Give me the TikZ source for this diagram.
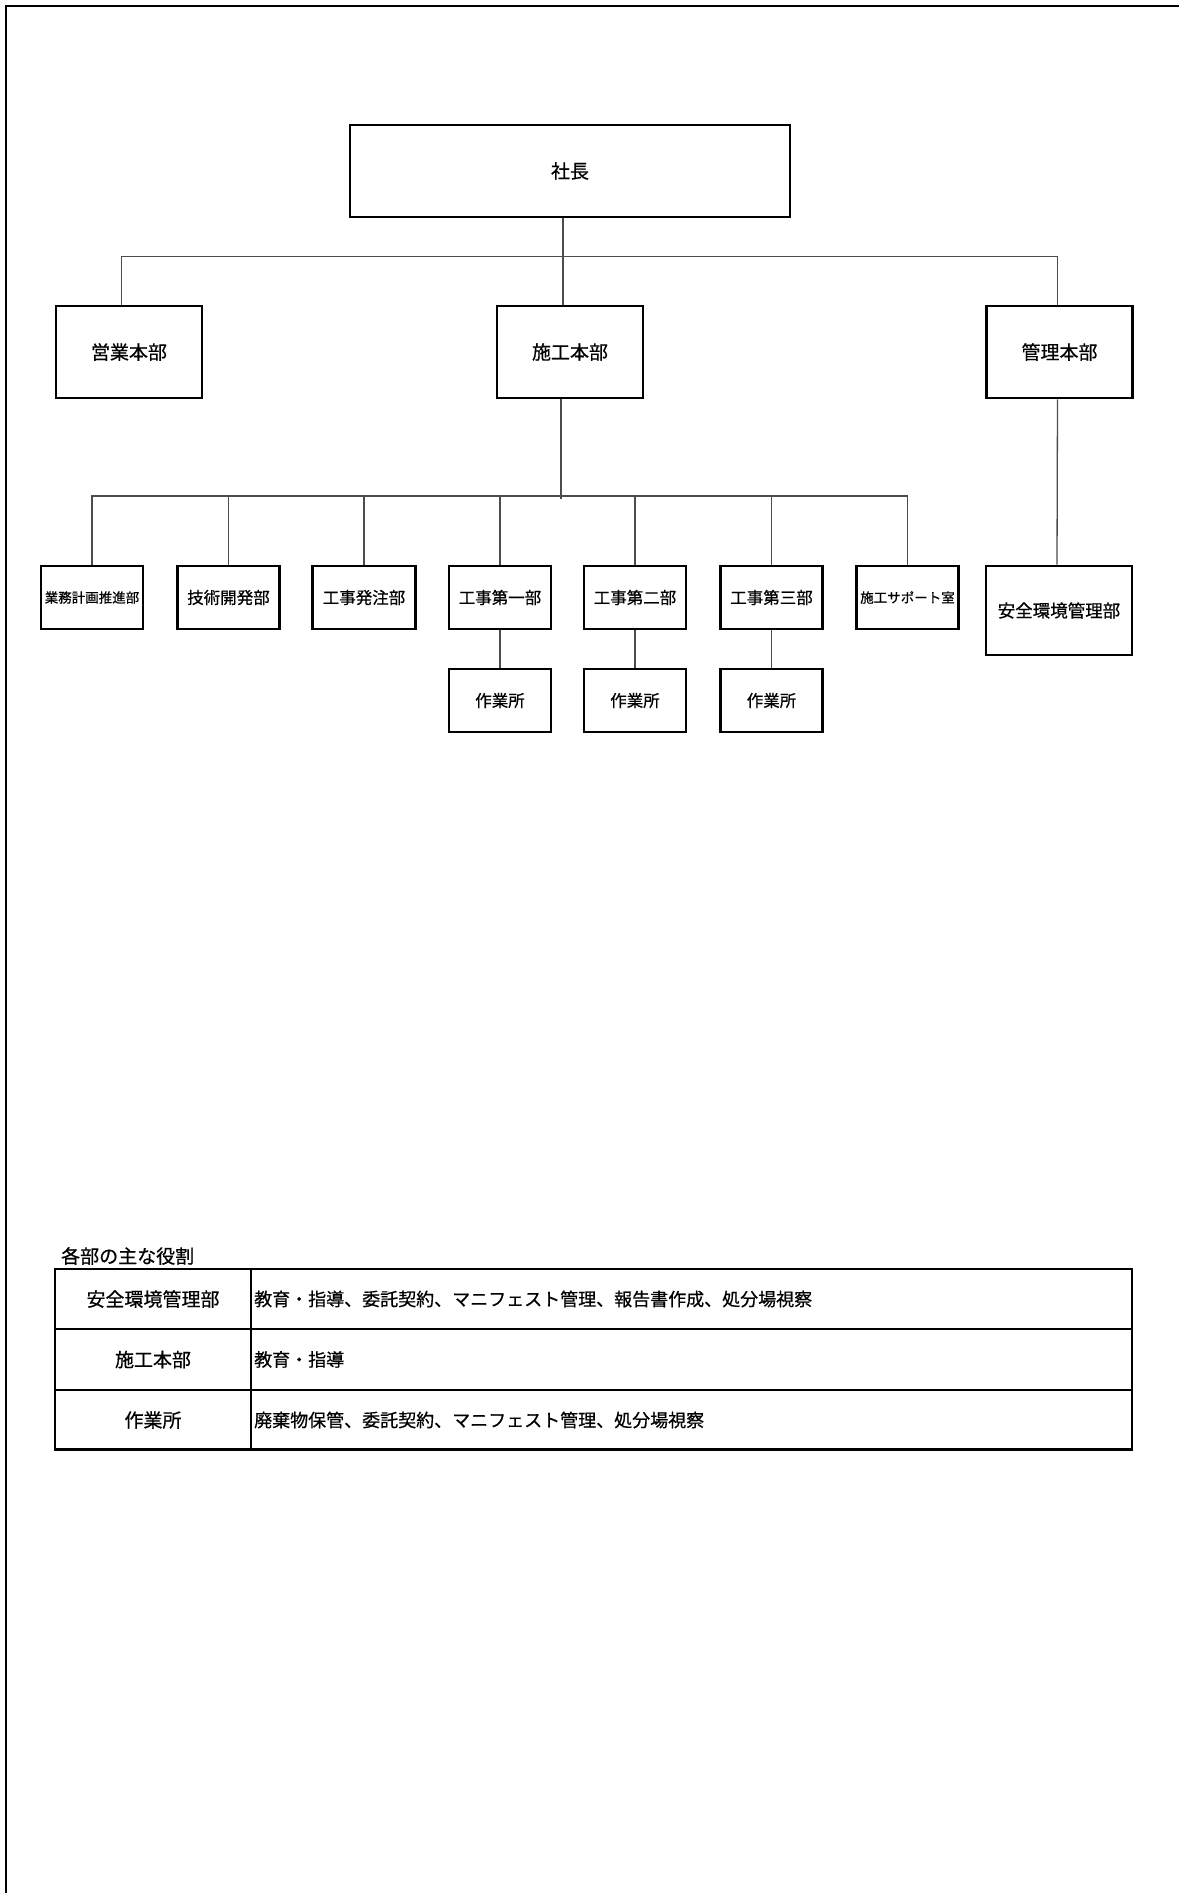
\documentclass[tikz,border=0pt]{standalone}
\usepackage{fontspec}
\newfontfamily\jp[FakeBold=0.6]{Noto Sans CJK JP}
\begin{document}
\begin{tikzpicture}[x=1pt,y=-1pt,
  box/.style={draw=black, line width=2.7pt, inner sep=0pt, align=center, font=\jp\fontsize{16.5}{20}\selectfont},
  bigbox/.style={box, font=\jp\fontsize{19}{22}\selectfont},
  smallbox/.style={box, font=\jp\fontsize{13.5}{16}\selectfont},
  conn/.style={draw=black!70, line width=1.3pt},
  frameline/.style={draw=black, line width=2.6pt},
  tline/.style={draw=black, line width=2.7pt},
  lbl/.style={inner sep=0pt, font=\jp\fontsize{19}{22}\selectfont},
  rtxt/.style={inner sep=0pt, anchor=west, font=\jp\fontsize{18}{22}\selectfont}]
\useasboundingbox (0,0) rectangle (1179,1893);
\fill[white] (0,0) rectangle (1179,1893);
% page frame (top and left only)
\draw[frameline] (6,1893) -- (6,6) -- (1179,6);

% level 0 / 1
\node[bigbox, minimum width=440pt, minimum height=92pt] (shacho) at (570,171) {社長};
\node[bigbox, minimum width=146pt, minimum height=92pt] (eigyo) at (129,352) {営業本部};
\node[bigbox, minimum width=146pt, minimum height=92pt] (sekou) at (570,352) {施工本部};
\node[bigbox, minimum width=146pt, minimum height=92pt] (kanri) at (1059.5,352) {管理本部};

% level 2
\node[smallbox, minimum width=102pt, minimum height=63pt] (gyomu) at (92,597.5) {業務計画推進部};
\node[box, minimum width=102pt, minimum height=63pt] (gijutsu) at (228.5,597.5) {技術開発部};
\node[box, minimum width=103pt, minimum height=63pt] (hatchu) at (364,597.5) {工事発注部};
\node[box, minimum width=102pt, minimum height=63pt] (dai1) at (500,597.5) {工事第一部};
\node[box, minimum width=102pt, minimum height=63pt] (dai2) at (635,597.5) {工事第二部};
\node[box, minimum width=102pt, minimum height=63pt] (dai3) at (771.5,597.5) {工事第三部};
\node[smallbox, minimum width=102pt, minimum height=63pt] (sapo) at (907.5,597.5) {施工サポート室};
\node[box, font=\jp\fontsize{17.5}{21}\selectfont, minimum width=146pt, minimum height=89pt] (anzen) at (1059,610.5) {安全環境管理部};

% level 3
\node[box, minimum width=102pt, minimum height=63pt] (sa1) at (500,700.5) {作業所};
\node[box, minimum width=102pt, minimum height=63pt] (sa2) at (635,700.5) {作業所};
\node[box, minimum width=102pt, minimum height=63pt] (sa3) at (771.5,700.5) {作業所};

% connectors level 0-1
\draw[conn] ([xshift=-7pt]shacho.south) -- ([xshift=-7pt]sekou.north);
\draw[conn] ([xshift=-7.5pt]eigyo.north) -- ++(0,-48) -| ([xshift=-2pt]kanri.north);

% connectors level 1-2
\coordinate (bus2) at (0,496);
\draw[conn] ([xshift=-9pt]sekou.south) -- ([xshift=-9pt,yshift=-3pt]sekou.south |- bus2);
\draw[conn] (gyomu.north) -- (gyomu.north |- bus2) -- (sapo.north |- bus2) -- (sapo.north);
\draw[conn] (gijutsu.north) -- (gijutsu.north |- bus2);
\draw[conn] (hatchu.north) -- (hatchu.north |- bus2);
\draw[conn] (dai1.north) -- (dai1.north |- bus2);
\draw[conn] (dai2.north) -- (dai2.north |- bus2);
\draw[conn] (dai3.north) -- (dai3.north |- bus2);
\draw[conn] ([xshift=-2pt]kanri.south) -- ([xshift=-2pt]anzen.north);

% connectors level 2-3
\draw[conn] (dai1.south) -- (sa1.north);
\draw[conn] (dai2.south) -- (sa2.north);
\draw[conn] (dai3.south) -- (sa3.north);

% table
\node[lbl, anchor=west] (ttl) at (61,1256) {各部の主な役割};
\draw[tline] (55,1269) rectangle (1132,1449.5);
\draw[tline] (55,1329) -- (1132,1329);
\draw[tline] (55,1390) -- (1132,1390);
\draw[tline] (251,1269) -- (251,1449.5);
\node[lbl] (r1l) at (153,1299) {安全環境管理部};
\node[lbl] (r2l) at (153,1359.5) {施工本部};
\node[lbl] (r3l) at (153,1420) {作業所};
\node[rtxt] (r1r) at (254,1299) {教育・指導、委託契約、マニフェスト管理、報告書作成、処分場視察};
\node[rtxt] (r2r) at (254,1359.5) {教育・指導};
\node[rtxt] (r3r) at (254,1420) {廃棄物保管、委託契約、マニフェスト管理、処分場視察};
\end{tikzpicture}
\end{document}
